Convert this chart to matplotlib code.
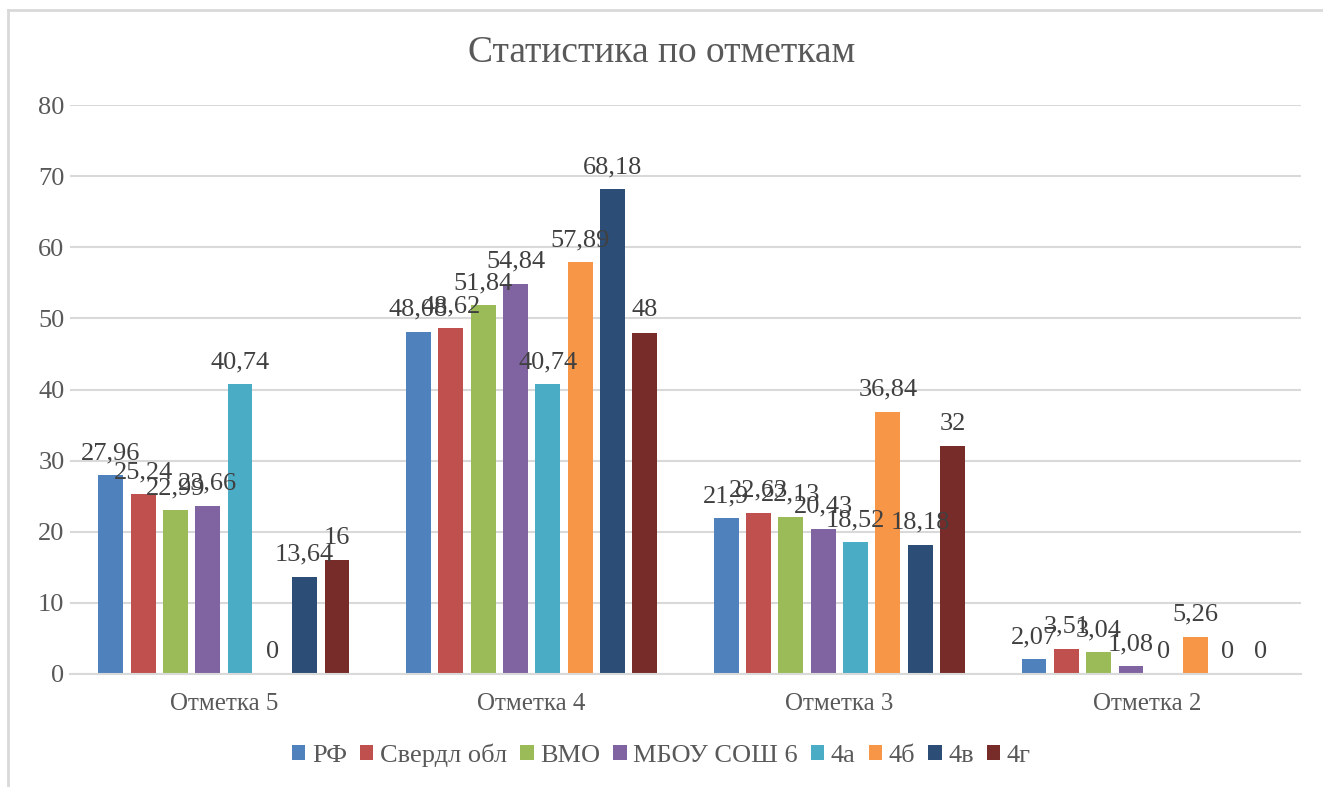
import matplotlib.pyplot as plt
import numpy as np
from matplotlib.lines import Line2D

# data
categories = ["Отметка 5", "Отметка 4", "Отметка 3", "Отметка 2"]
series_names = ["РФ", "Свердл обл", "ВМО", "МБОУ СОШ 6", "4а", "4б", "4в", "4г"]
rf = [27.96, 48.08, 21.9, 2.07]
sverdl = [25.24, 48.62, 22.63, 3.51]
vmo = [22.99, 51.84, 22.13, 3.04]
mbou = [23.66, 54.84, 20.43, 1.08]
cls_a = [40.74, 40.74, 18.52, 0]
cls_b = [0, 57.89, 36.84, 5.26]
cls_v = [13.64, 68.18, 18.18, 0]
cls_g = [16, 48, 32, 0]
series = [rf, sverdl, vmo, mbou, cls_a, cls_b, cls_v, cls_g]
colors = ["#4F81BD", "#C0504D", "#9BBB59", "#8064A2",
          "#4BACC6", "#F79646", "#2C4D75", "#772C2A"]

plt.rcParams['font.family'] = ['Liberation Serif', 'DejaVu Serif']

fig = plt.figure(figsize=(13.23, 7.87), dpi=100)
ax = fig.add_axes([70 / 1323, 1 - 674 / 787, 1231 / 1323, 569 / 787])

# outer chart frame (only left and top edges visible)
fig.add_artist(Line2D([8 / 1323, 8 / 1323], [0, 1 - 10 / 787], color="#D9D9D9", lw=2))
fig.add_artist(Line2D([8 / 1323, 1], [1 - 10 / 787, 1 - 10 / 787], color="#D9D9D9", lw=2))

x = np.arange(len(categories))
step = 0.105
width = 0.081


def fmt(v):
    s = ("%.2f" % v).rstrip("0").rstrip(".")
    return s.replace(".", ",")


for i, (name, vals, col) in enumerate(zip(series_names, series, colors)):
    pos = x + (i - 3.5) * step
    ax.bar(pos, vals, width, color=col, label=name, zorder=2)
    for p, v in zip(pos, vals):
        ax.annotate(fmt(v), (p, v), xytext=(0, 8), textcoords="offset points",
                    ha="center", va="bottom", fontsize=19, color="#404040", zorder=3)

ax.set_xlim(-0.5, len(categories) - 0.5)
ax.set_ylim(0, 80)
ax.set_yticks(range(0, 81, 10))
ax.grid(axis="y", color="#D9D9D9", lw=1.5, zorder=0)
ax.set_xticks(x)
ax.set_xticklabels(categories)
ax.tick_params(axis="x", length=0, labelsize=18, labelcolor="#595959", pad=14)
ax.tick_params(axis="y", length=0, labelsize=19, labelcolor="#595959", pad=4)
for sp in ["top", "right", "left"]:
    ax.spines[sp].set_visible(False)
ax.spines["bottom"].set_color("#D9D9D9")
ax.spines["bottom"].set_linewidth(1.5)

fig.text(0.5, 1 - 53 / 787, "Статистика по отметкам", ha="center", va="center",
         fontsize=27, color="#595959")

fig.legend(loc="center", bbox_to_anchor=(0.5, 1 - 755 / 787), ncol=8, frameon=False,
           fontsize=19, handlelength=0.5, handleheight=0.5, handletextpad=0.25,
           columnspacing=0.5, labelcolor="#595959")

fig.savefig("out.png", dpi=100)
